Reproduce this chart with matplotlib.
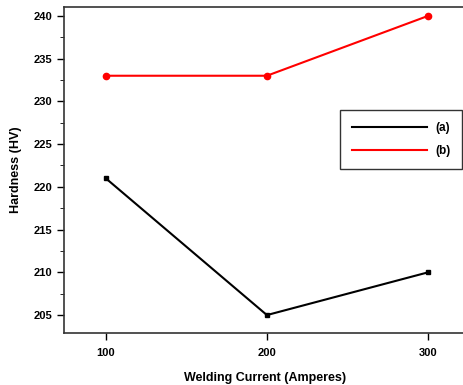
import matplotlib
matplotlib.use("Agg")
import matplotlib.pyplot as plt
from matplotlib.lines import Line2D
from matplotlib.ticker import MultipleLocator

current = [100, 200, 300]
hardness_a = [221, 205, 210]
hardness_b = [233, 233, 240]

plt.rcParams['font.family'] = ['Liberation Sans', 'DejaVu Sans']
plt.rcParams['font.weight'] = 'bold'

fig = plt.figure(figsize=(4.63, 3.85), dpi=100)
ax = fig.add_axes([0.138, 0.135, 0.87, 0.847])

ax.plot(current, hardness_a, color='black', lw=1.5, marker='s', ms=3.5)
ax.plot(current, hardness_b, color='red', lw=1.5, marker='o', ms=4.5)

ax.set_xlim(74, 324)
ax.set_ylim(202.9, 241.05)
ax.set_xticks(current)
ax.yaxis.set_major_locator(MultipleLocator(5))
ax.yaxis.set_minor_locator(MultipleLocator(2.5))
ax.tick_params(axis='both', direction='out', labelsize=8, width=1)
ax.tick_params(axis='y', which='major', length=5)
ax.tick_params(axis='y', which='minor', length=3)
ax.tick_params(axis='x', length=5, pad=6)
for lab in ax.get_xticklabels() + ax.get_yticklabels():
    lab.set_fontweight('bold')

for s in ax.spines.values():
    s.set_color('#333333')
    s.set_linewidth(1.2)

ax.set_xlabel('Welding Current (Amperes)', fontsize=9, fontweight='bold', labelpad=10)
ax.set_ylabel('Hardness (HV)', fontsize=9, fontweight='bold', labelpad=8)

# legend shows plain line samples only
handles = [Line2D([], [], color='black', lw=1.5),
           Line2D([], [], color='red', lw=1.5)]
leg = ax.legend(handles, ['(a)', '(b)'], loc='upper left',
                bbox_to_anchor=(0.685, 0.684), fancybox=False,
                edgecolor='#333333', fontsize=8.5, handlelength=6.4,
                handletextpad=0.7, borderpad=1.0, labelspacing=0.95,
                borderaxespad=0, framealpha=1)
leg.get_frame().set_linewidth(1)

fig.savefig('out.png', dpi=100)
